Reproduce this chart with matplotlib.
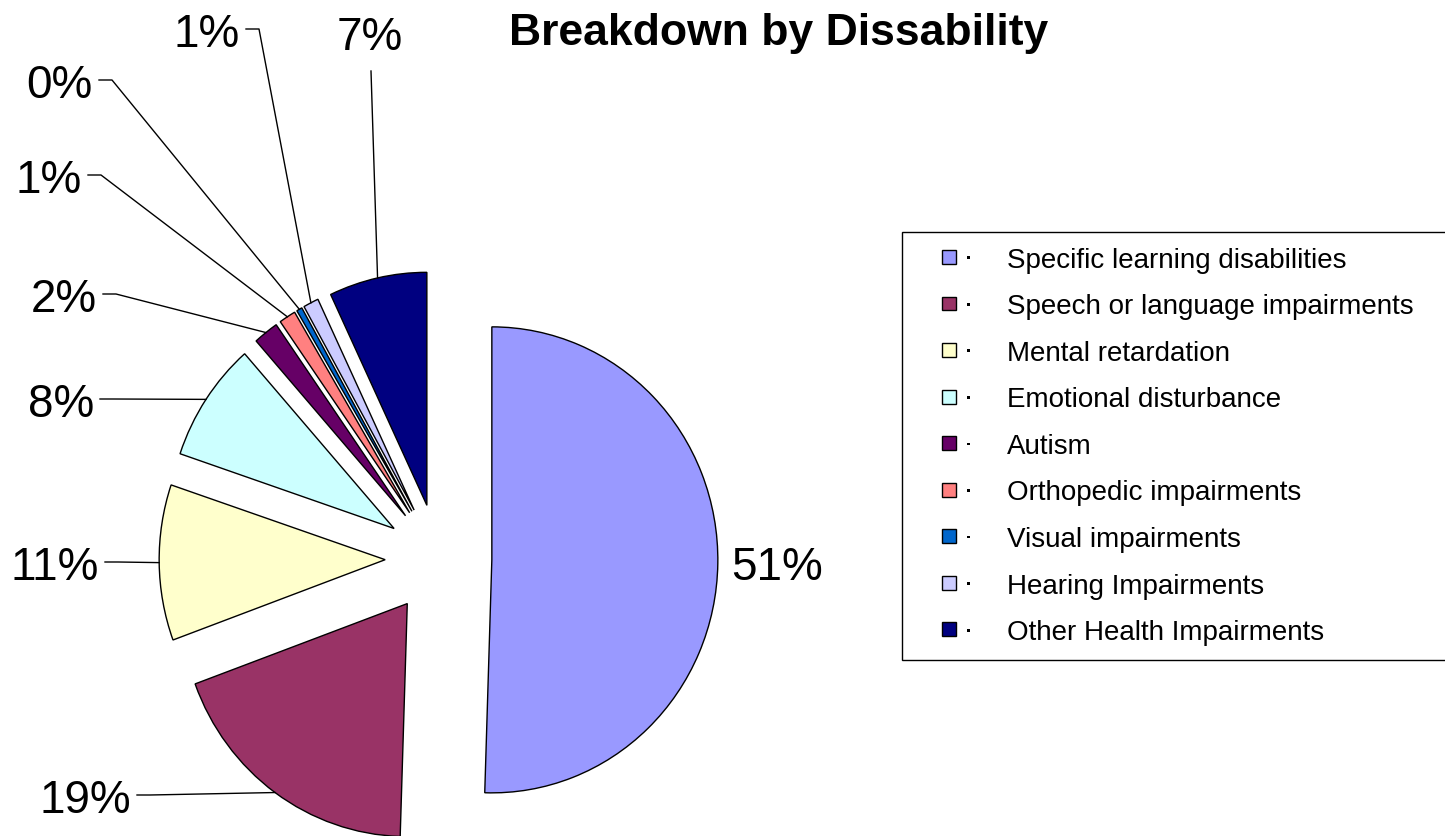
import matplotlib
matplotlib.use("Agg")
import numpy as np
import matplotlib.pyplot as plt
from matplotlib.patches import Rectangle
from matplotlib.legend_handler import HandlerBase

# data (percent of students)
categories = ["Specific learning disabilities", "Speech or language impairments",
              "Mental retardation", "Emotional disturbance", "Autism",
              "Orthopedic impairments", "Visual impairments",
              "Hearing Impairments", "Other Health Impairments"]
shares = [50.5, 18.9, 10.8, 8.3, 1.8, 1.2, 0.4, 1.1, 7.0]
colors = ["#9999FF", "#993366", "#FFFFCC", "#CCFFFF", "#660066",
          "#FF8080", "#0066CC", "#CCCCFF", "#000080"]
title = "Breakdown by Dissability"

# layout, in figure pixels measured from the top left
W, H = 1445, 837
SX = 226 / 233          # pie is a little squashed sideways
pie_center = (438.5, 560)
pie_radius = 233
explode_dist = 55
label_xy = [(731, 580), (131, 813), (99, 580), (94, 417), (97, 312),
            (82, 193), (93, 98), (240, 47), (370, 50)]
label_ha = ["left", "right", "right", "right", "right", "right", "right", "right", "center"]
leader_start = [None, (137, 796), (105, 563), (100, 400), (103, 295),
                (88, 176), (99, 81), (246, 30), (371, 72)]
stub_len = [0, 13, 13, 13, 13, 13, 13, 13, 0]


def px(x, y):
    return x / SX, H - y


class KeyHandler(HandlerBase):
    # excel style legend key: small square and a dot
    def create_artists(self, legend, orig, xdescent, ydescent, width, height, fontsize, trans):
        s = 10
        y0 = -ydescent + (height - s) / 2
        sq = Rectangle((-xdescent + 18, y0), s, s, facecolor=orig.get_facecolor(),
                       edgecolor="black", linewidth=1.0, transform=trans)
        dot = Rectangle((-xdescent + 36.5, y0 + s / 2 - 1.5), 2, 2, facecolor="black",
                        edgecolor="none", transform=trans)
        return [sq, dot]


plt.rcParams["font.family"] = ["Liberation Sans", "DejaVu Sans"]

fig = plt.figure(figsize=(W / 100, H / 100), dpi=100)
ax = fig.add_axes([0, 0, 1, 1])

wedges, _ = ax.pie(shares, colors=colors, startangle=90, counterclock=False,
                   center=px(*pie_center), radius=pie_radius,
                   explode=[explode_dist] * len(shares), frame=True,
                   wedgeprops=dict(edgecolor="black", linewidth=1.0))
ax.set_aspect("auto")
ax.set_xlim(0, W / SX)
ax.set_ylim(0, H)
ax.axis("off")

for i, w in enumerate(wedges):
    # excel rounds halves up
    txt = f"{int(shares[i] + 0.5)}%"
    ax.text(*px(*label_xy[i]), txt, ha=label_ha[i], va="baseline", fontsize=33)
    if leader_start[i] is None:
        continue
    mid = np.radians((w.theta1 + w.theta2) / 2)
    ex = w.center[0] + w.r * np.cos(mid)
    ey = w.center[1] + w.r * np.sin(mid)
    sx, sy = px(*leader_start[i])
    kx, ky = px(leader_start[i][0] + stub_len[i], leader_start[i][1])
    ax.plot([sx, kx, ex], [sy, ky, ey], color="black", linewidth=1.0)

fig.text(779 / W, 1 - 45 / H, title, ha="center", va="baseline",
         fontsize=32, fontweight="bold")

leg = ax.legend(wedges, categories, handler_map={matplotlib.patches.Wedge: KeyHandler()},
                loc="upper left", mode="expand",
                bbox_to_anchor=(902 / W, 0, 546 / W, 1 - 233 / H),
                bbox_transform=fig.transFigure, fontsize=20,
                handlelength=2.95, handletextpad=0.3, borderpad=0.53,
                labelspacing=0.74, fancybox=False, framealpha=1, borderaxespad=0)
leg.get_frame().set_edgecolor("black")
leg.get_frame().set_linewidth(1.0)

fig.savefig("out.png", dpi=100)
